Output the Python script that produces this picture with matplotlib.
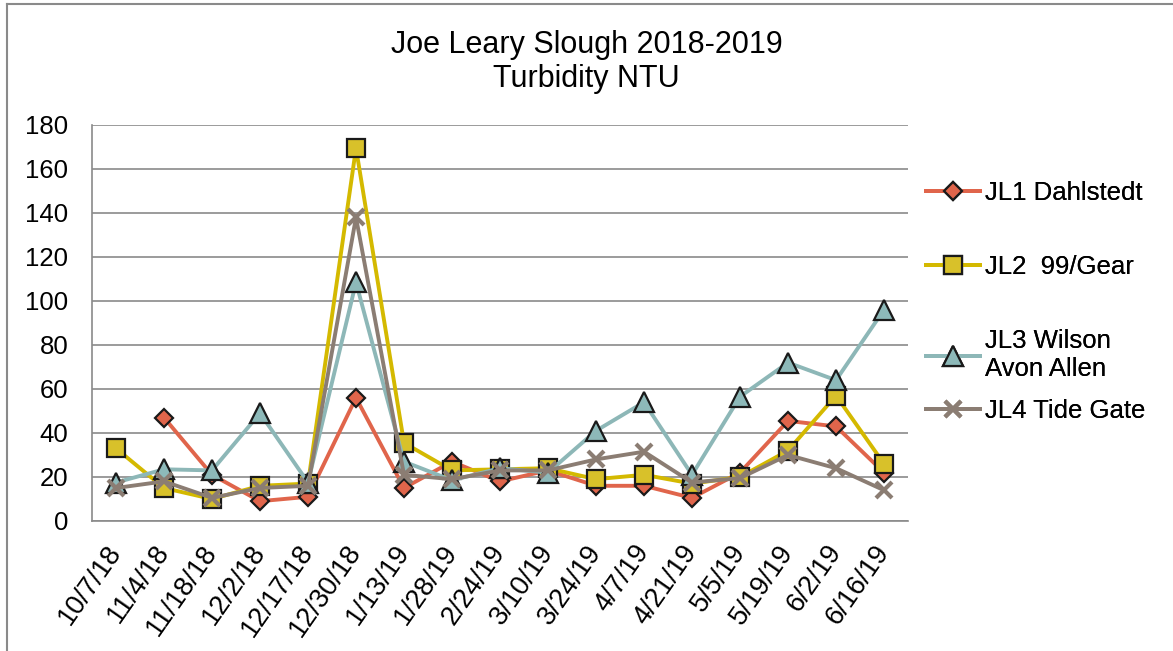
import numpy as np
import matplotlib.pyplot as plt
from matplotlib.lines import Line2D

plt.rcParams['font.family'] = ['Liberation Sans', 'DejaVu Sans']

dates = ["10/7/18", "11/4/18", "11/18/18", "12/2/18", "12/17/18", "12/30/18",
         "1/13/19", "1/28/19", "2/24/19", "3/10/19", "3/24/19", "4/7/19",
         "4/21/19", "5/5/19", "5/19/19", "6/2/19", "6/16/19"]

jl1 = [np.nan, 47, 21, 9, 11, 56, 15, 27, 18, 23, 16, 16, 10.5, 22, 45.5, 43, 22]
jl2 = [33, 15, 10, 16, 17, 169.5, 35.5, 23, 23.5, 24, 19, 21, 17, 20, 32, 57, 26]
jl3 = [17.5, 23.5, 23, 49, 17.5, 108.5, 27, 18.5, 24, 22, 41, 54, 21, 56.5, 72, 64, 96]
jl4 = [15, 18, 10.5, 15, 16, 138, 21, 19, 23, 23, 28, 31.5, 17.5, 19.5, 30, 24, 14]

labels = ["JL1 Dahlstedt", "JL2  99/Gear", "JL3 Wilson\nAvon Allen", "JL4 Tide Gate"]
yticks = [0, 20, 40, 60, 80, 100, 120, 140, 160, 180]

fig = plt.figure(figsize=(11.73, 6.51), dpi=100)
ax = fig.add_axes([92 / 1173, 1 - 521 / 651, (908 - 92) / 1173, (521 - 125) / 651])

x = np.arange(len(dates))
styles = [
    dict(color="#E0654B", marker="D", ms=9.5, mfc="#E0654B"),
    dict(color="#D4B900", marker="s", ms=12.5, mfc="#D8C12A"),
    dict(color="#8DB7B7", marker="^", ms=15, mfc="#8DB9B9"),
    dict(color="#8B7D73", marker="x", ms=11, mfc="#8B7D73"),
]
series = [jl1, jl2, jl3, jl4]
handles = []
for vals, st in zip(series, styles):
    mec = "#1a1a1a" if st["marker"] != "x" else st["color"]
    mew = 1.6 if st["marker"] != "x" else 3
    h, = ax.plot(x, vals, color=st["color"], lw=2.8, marker=st["marker"],
                 ms=st["ms"], mfc=st["mfc"], mec=mec, mew=mew)
    handles.append(h)

ax.set_xlim(-0.5, len(dates) - 0.5)
ax.set_ylim(0, 180)
ax.set_yticks(yticks)
ax.yaxis.grid(True, color="#8a8a8a", lw=1.2)
ax.set_axisbelow(True)
ax.set_xticks(x)
ax.set_xticklabels(dates, rotation=55, ha="right", va="center",
                   rotation_mode="anchor", fontsize=19.5)
ax.tick_params(axis="x", length=0, pad=19)
ax.tick_params(axis="y", length=0, pad=17, labelsize=18.5)
for s in ["top", "right"]:
    ax.spines[s].set_visible(False)
for s in ["left", "bottom"]:
    ax.spines[s].set_color("#8a8a8a")
    ax.spines[s].set_linewidth(1.2)

# legend entries placed one by one, spacing as in the original
leg_y = [193, 267, 355, 411]
for h, lab, yy in zip(handles, labels, leg_y):
    lg = fig.legend([h], [lab], loc="center left",
                    bbox_to_anchor=(926 / 1173, 1 - yy / 651),
                    frameon=False, fontsize=18.5, handlelength=2.1,
                    handletextpad=0.2, borderpad=0, borderaxespad=0)
    fig.add_artist(lg)

fig.text(0.5, 1 - 62 / 651, "Joe Leary Slough 2018-2019\nTurbidity NTU",
         ha="center", va="center", fontsize=22, linespacing=1.2)

# outer chart border (left and top edges visible)
fig.add_artist(Line2D([7 / 1173, 7 / 1173], [0, 1 - 4 / 651], color="#8a8a8a",
                      lw=1.5, transform=fig.transFigure))
fig.add_artist(Line2D([7 / 1173, 1], [1 - 4 / 651, 1 - 4 / 651], color="#8a8a8a",
                      lw=1.5, transform=fig.transFigure))

fig.savefig("out.png", dpi=100)
